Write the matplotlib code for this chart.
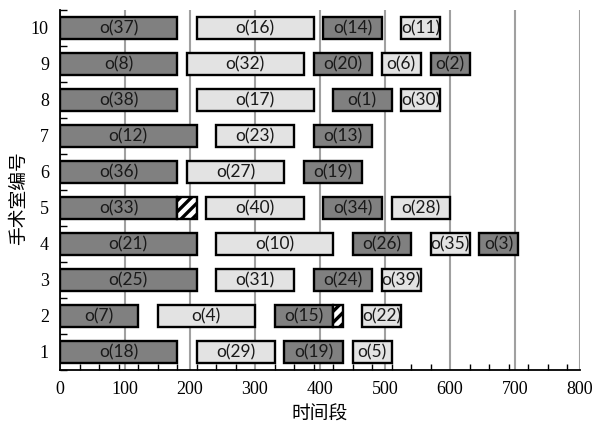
import matplotlib
matplotlib.use("Agg")
import matplotlib.pyplot as plt
import numpy as np

plt.rcParams["hatch.linewidth"] = 2.4

# ---- data ----
rooms = list(range(1, 11))

bar_room = [1, 1, 1, 1,
            2, 2, 2, 2,
            3, 3, 3, 3,
            4, 4, 4, 4, 4,
            5, 5, 5, 5,
            6, 6, 6,
            7, 7, 7,
            8, 8, 8, 8,
            9, 9, 9, 9, 9,
            10, 10, 10, 10]
bar_start = [0, 210, 345, 450,
             0, 150, 330, 465,
             0, 240, 390, 495,
             0, 240, 450, 570, 645,
             0, 225, 405, 510,
             0, 195, 375,
             0, 240, 390,
             0, 210, 420, 525,
             0, 195, 390, 495, 570,
             0, 210, 405, 525]
bar_end = [180, 330, 435, 510,
           120, 300, 420, 525,
           210, 360, 480, 555,
           210, 420, 540, 630, 705,
           180, 375, 495, 600,
           180, 345, 465,
           210, 360, 480,
           180, 390, 510, 585,
           180, 375, 480, 555, 630,
           180, 390, 495, 585]
bar_label = ["o(18)", "o(29)", "o(19)", "o(5)",
             "o(7)", "o(4)", "o(15)", "o(22)",
             "o(25)", "o(31)", "o(24)", "o(39)",
             "o(21)", "o(10)", "o(26)", "o(35)", "o(3)",
             "o(33)", "o(40)", "o(34)", "o(28)",
             "o(36)", "o(27)", "o(19)",
             "o(12)", "o(23)", "o(13)",
             "o(38)", "o(17)", "o(1)", "o(30)",
             "o(8)", "o(32)", "o(20)", "o(6)", "o(2)",
             "o(37)", "o(16)", "o(14)", "o(11)"]

# hatched (overrun) segments
hatch_room = [5, 2]
hatch_start = [180, 420]
hatch_end = [210, 435]

x_ticks = list(range(0, 801, 100))

# ---- figure ----
fig = plt.figure(figsize=(5.95, 4.26), dpi=100)
ax = fig.add_axes([60 / 595, 56 / 426, 520 / 595, 360 / 426])

DARK = "#808080"
LIGHT = "#e3e3e3"
H = 0.61

# alternate dark / light along each room's sequence
order = {}
for r, s, e, lab in zip(bar_room, bar_start, bar_end, bar_label):
    k = order.get(r, 0)
    order[r] = k + 1
    ax.barh(r, e - s, left=s, height=H, color=DARK if k % 2 == 0 else LIGHT,
            edgecolor="black", linewidth=1.7, zorder=3)
    ax.text((s + e) / 2, r, lab, ha="center", va="center", fontsize=12.5,
            family="Lato", color="#1a1a1a", zorder=4)

for r, s, e in zip(hatch_room, hatch_start, hatch_end):
    ax.barh(r, e - s, left=s, height=H, color="white", hatch="///",
            edgecolor="black", linewidth=1.7, zorder=3)

ax.set_xlim(0, 800)
ax.set_ylim(0.5, 10.5)

ax.set_xticks(x_ticks)
ax.set_xticks(np.arange(0, 801, 30), minor=True)
ax.set_yticks(rooms)
ax.set_yticks(np.arange(0.5, 10.6, 1), minor=True)
ax.tick_params(axis="x", which="major", length=0, pad=8)
ax.tick_params(axis="x", which="minor", direction="in", length=4, width=1)
ax.tick_params(axis="y", which="major", length=0, pad=8)
ax.tick_params(axis="y", which="minor", direction="in", length=5, width=1)
for lab in ax.get_xticklabels() + ax.get_yticklabels():
    lab.set_family("Liberation Serif")
    lab.set_fontsize(13)

ax.grid(axis="x", color="#a0a0a0", linewidth=1.5)
ax.set_axisbelow(True)

for side in ["top", "right"]:
    ax.spines[side].set_visible(False)
for side in ["left", "bottom"]:
    ax.spines[side].set_linewidth(1.3)

ax.set_xlabel("时间段", family=["Noto Sans CJK SC", "DejaVu Sans"],
              fontsize=13.5, labelpad=4)
ax.set_ylabel("手术室编号", family=["Noto Sans CJK SC", "DejaVu Sans"],
              fontsize=13.5)
ax.yaxis.set_label_coords(-31 / 520, 0.478)

fig.savefig("out.png", dpi=100)
